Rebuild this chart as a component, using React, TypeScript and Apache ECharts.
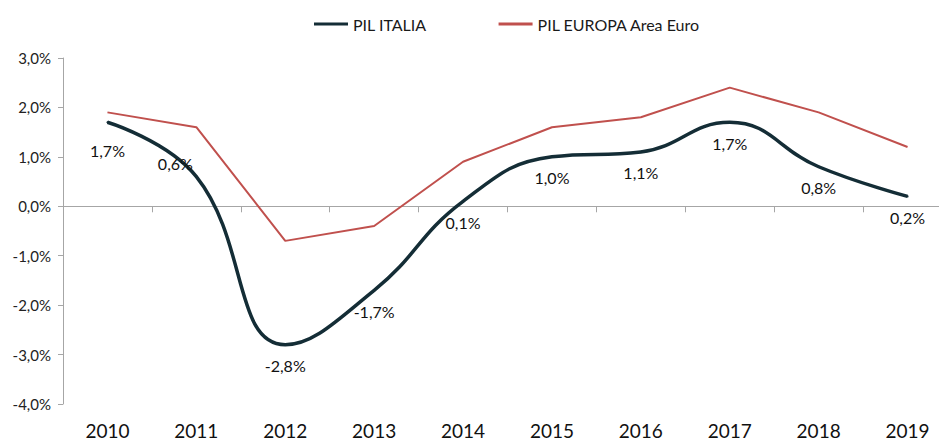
import React, { useEffect, useRef } from "react";
import * as echarts from "echarts";

const years = ["2010", "2011", "2012", "2013", "2014", "2015", "2016", "2017", "2018", "2019"];
const pilItalia = [1.7, 0.6, -2.8, -1.7, 0.1, 1.0, 1.1, 1.7, 0.8, 0.2];
const pilEuropa = [1.9, 1.6, -0.7, -0.4, 0.9, 1.6, 1.8, 2.4, 1.9, 1.2];
const yTicks = { min: -4, max: 3, interval: 1 };

const FONT = "Lato, 'Open Sans', sans-serif";
const fmt = (v: number) => v.toFixed(1).replace(".", ",") + "%";

export default function App() {
  const ref = useRef<HTMLDivElement>(null);
  useEffect(() => {
    if (!ref.current) return;
    const chart = echarts.init(ref.current, undefined, { renderer: "svg" });
    const italiaData = pilItalia.map((v, i) => {
      if (i === 1) {
        return { value: v, label: { position: "top", distance: 4, offset: [-21, 0] } };
      }
      if (i === 0) {
        return { value: v, label: { distance: 19 } };
      }
      return v;
    });
    chart.setOption({
      animation: false,
      textStyle: { fontFamily: FONT },
      legend: {
        left: 309,
        top: 11,
        itemWidth: 34,
        itemHeight: 3,
        itemGap: 72,
        textStyle: { fontFamily: FONT, fontSize: 16, color: "#1a1a1a" },
        data: [
          { name: "PIL ITALIA", icon: "rect" },
          { name: "PIL EUROPA Area Euro", icon: "rect" },
        ],
      },
      grid: { left: 63, width: 889, top: 58, bottom: 39, containLabel: false, outerBoundsMode: "none" },
      xAxis: [
        {
          type: "category",
          data: years,
          boundaryGap: true,
          axisLine: { show: true, onZero: true, lineStyle: { color: "#a6a6a6", width: 1 } },
          axisTick: { show: true, length: 6, lineStyle: { color: "#a6a6a6" } },
          axisLabel: { show: false },
          splitLine: { show: false },
        },
        {
          type: "category",
          data: years,
          position: "bottom",
          boundaryGap: true,
          axisLine: { show: false, onZero: false },
          axisTick: { show: false },
          axisLabel: { show: true, fontFamily: FONT, fontSize: 19, color: "#111", margin: 17 },
          splitLine: { show: false },
        },
      ],
      yAxis: {
        type: "value",
        min: yTicks.min,
        max: yTicks.max,
        interval: yTicks.interval,
        axisLine: { show: true, lineStyle: { color: "#a6a6a6", width: 1 } },
        axisTick: { show: true, length: 5, lineStyle: { color: "#a6a6a6" } },
        axisLabel: { formatter: fmt, fontFamily: FONT, fontSize: 15, color: "#222", margin: 12 },
        splitLine: { show: false },
      },
      series: [
        {
          name: "PIL EUROPA Area Euro",
          type: "line",
          data: pilEuropa,
          xAxisIndex: 0,
          symbol: "none",
          lineStyle: { color: "#c0504d", width: 2 },
          itemStyle: { color: "#c0504d" },
          z: 2,
        },
        {
          name: "PIL ITALIA",
          type: "line",
          data: italiaData,
          xAxisIndex: 0,
          smooth: 0.45,
          symbol: "circle",
          symbolSize: 2,
          showSymbol: true,
          lineStyle: { color: "#142d36", width: 3.5 },
          itemStyle: { color: "#142d36" },
          label: {
            show: true,
            position: "bottom",
            distance: 12,
            formatter: (p: any) => fmt(p.value),
            fontFamily: FONT,
            fontSize: 16,
            color: "#111",
          },
          z: 3,
        },
      ],
    });
    return () => chart.dispose();
  }, []);
  return <div ref={ref} style={{ width: 939, height: 443, position: "absolute", left: 0, top: 0 }} />;
}
